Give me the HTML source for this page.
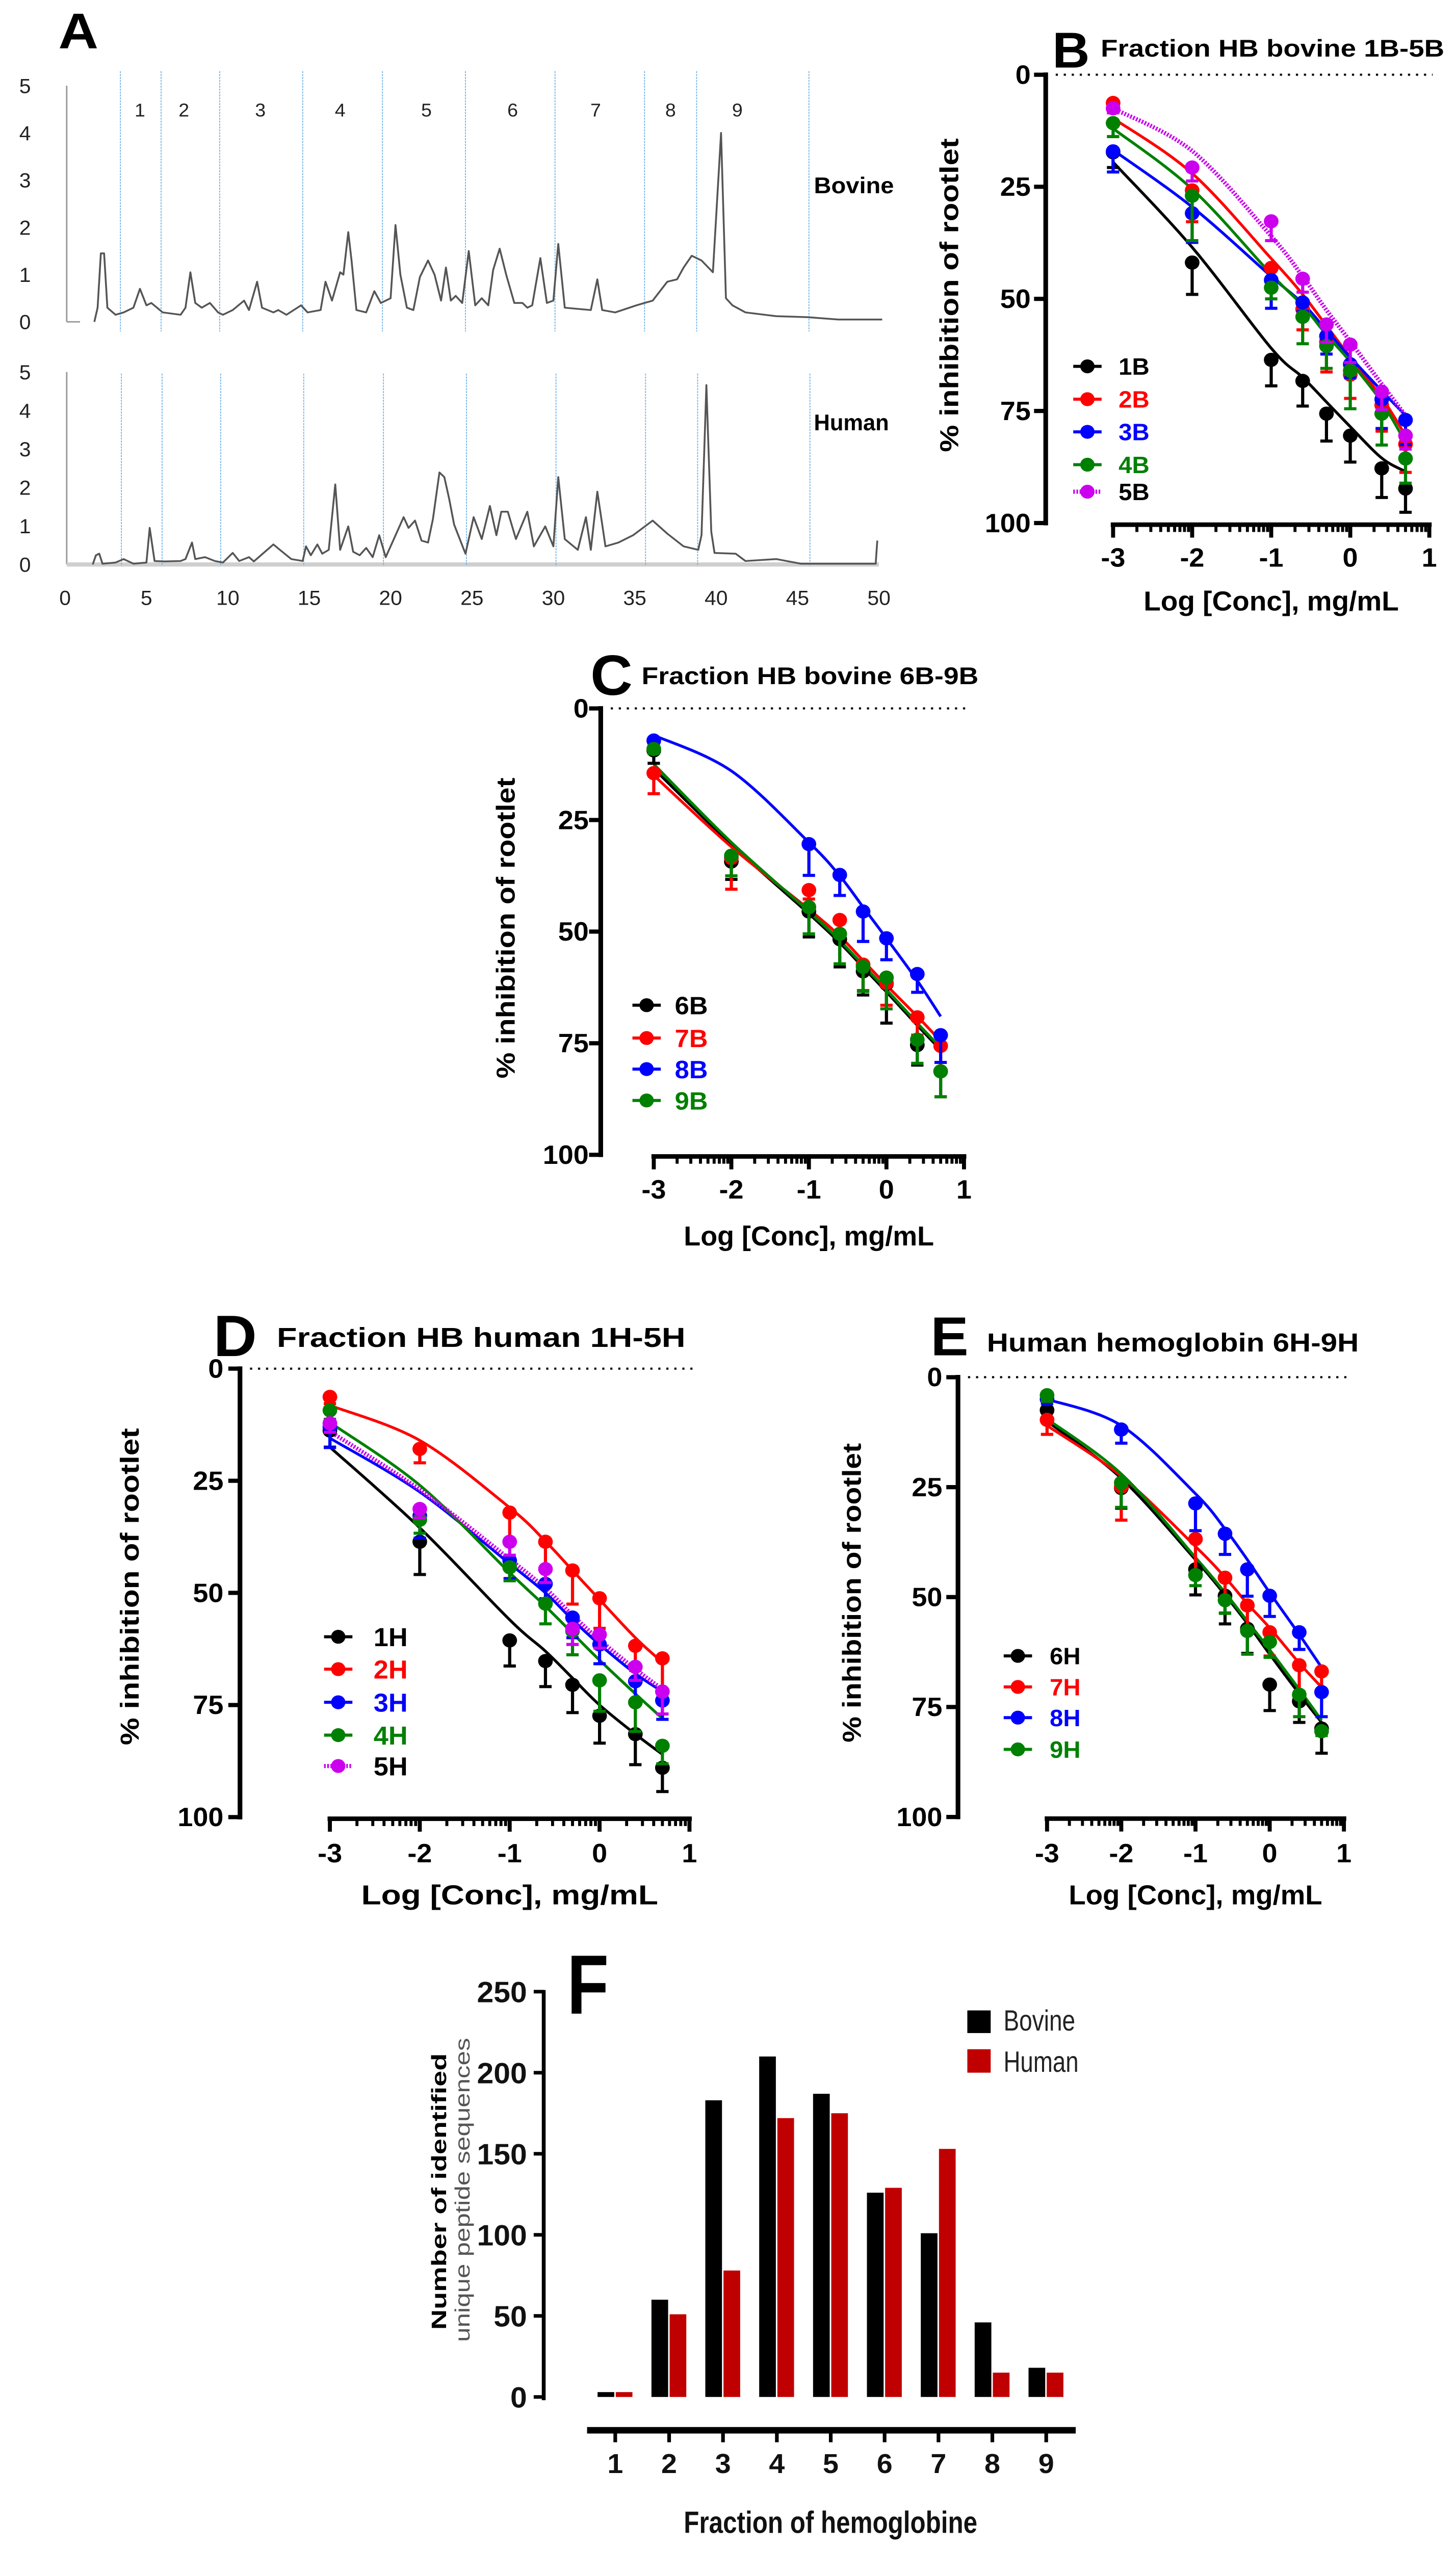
<!DOCTYPE html>
<html><head><meta charset="utf-8"><title>Hemoglobin fractions figure</title>
<style>
html,body{margin:0;padding:0;background:#fff;width:100%;height:100%;overflow:hidden;}
#fig{display:block;position:absolute;left:0;top:0;width:100vw;height:100vh;}
.nb{font-family:"Liberation Sans Narrow","Liberation Sans",sans-serif;font-weight:bold;}
.bd{font-family:"Liberation Sans",sans-serif;font-weight:bold;}
.rg{font-family:"Liberation Sans",sans-serif;}
</style></head>
<body>
<svg id="fig" xmlns="http://www.w3.org/2000/svg" viewBox="0 0 873 1576" preserveAspectRatio="none">
<rect x="0" y="0" width="873" height="1576" fill="#fff"/>
</svg>
<script>
// ===== Panel A data (chromatograms: time in min, absorbance) =====
const bovT=[1.8,2.0,2.2,2.4,2.6,3.1,3.6,4.2,4.6,5.0,5.3,6.0,7.1,7.4,7.7,8.0,8.4,8.9,9.4,9.7,10.3,11.0,11.3,11.8,12.1,12.8,13.1,13.6,14.5,14.9,15.7,16.0,16.4,16.9,17.1,17.4,17.6,17.9,18.5,19.0,19.4,19.7,20.0,20.3,20.6,21.0,21.4,21.8,22.3,22.7,23.1,23.4,23.7,24.0,24.4,24.8,25.2,25.6,26.0,26.3,26.7,27.1,27.6,28.1,28.4,28.7,29.2,29.6,30.0,30.3,30.7,32.3,32.7,33.0,33.8,35.1,36.1,37.0,37.6,38.0,38.5,39.1,39.8,40.3,40.6,41.0,41.8,43.7,45.6,47.5,50.2];
const bovV=[0.0,0.3,1.45,1.45,0.3,0.15,0.2,0.3,0.7,0.35,0.4,0.2,0.15,0.3,1.05,0.4,0.3,0.4,0.2,0.15,0.25,0.45,0.25,0.85,0.3,0.2,0.25,0.15,0.35,0.2,0.25,0.85,0.45,1.05,1.0,1.9,1.3,0.25,0.2,0.65,0.4,0.45,0.5,2.05,1.0,0.3,0.25,0.95,1.3,1.0,0.45,1.15,0.45,0.55,0.4,1.5,0.35,0.5,0.35,1.1,1.55,1.0,0.4,0.4,0.3,0.35,1.35,0.4,0.45,1.65,0.3,0.25,0.9,0.25,0.2,0.35,0.45,0.85,0.9,1.15,1.4,1.3,1.05,4.0,0.5,0.35,0.2,0.12,0.1,0.05,0.05];
const humT=[1.7,1.9,2.1,2.3,3.1,3.6,4.2,5.0,5.2,5.5,6.1,7.1,7.4,7.8,8.0,8.6,9.2,9.7,10.3,10.7,11.3,11.6,12.8,13.2,13.9,14.6,14.8,15.1,15.5,15.8,16.2,16.6,16.9,17.4,17.7,18.1,18.5,18.9,19.3,19.7,20.2,20.8,21.1,21.5,21.9,22.3,22.6,23.0,23.3,23.6,23.9,24.6,25.1,25.6,26.1,26.5,26.8,27.2,27.7,28.4,28.8,29.5,30.0,30.3,30.7,31.5,32.0,32.3,32.7,33.2,34.0,34.9,36.1,37.0,38.0,38.9,39.1,39.4,39.7,39.9,41.2,41.8,43.7,45.2,49.8,49.9];
const humV=[0,0.24,0.28,0.02,0.05,0.14,0.02,0.05,0.95,0.09,0.08,0.09,0.14,0.57,0.14,0.19,0.09,0.05,0.3,0.09,0.19,0.08,0.52,0.38,0.14,0.09,0.47,0.24,0.52,0.28,0.38,2.08,0.38,0.99,0.33,0.24,0.43,0.19,0.76,0.19,0.66,1.23,0.95,1.14,0.62,0.57,1.18,2.39,2.27,1.7,1.04,0.28,1.23,0.66,1.52,0.76,1.37,1.37,0.66,1.37,0.47,0.99,0.47,2.27,0.66,0.38,1.23,0.38,1.89,0.47,0.57,0.76,1.14,0.8,0.47,0.38,0.76,4.66,0.85,0.3,0.28,0.09,0.14,0.02,0.02,0.62];
const cutT=[3.4,5.9,9.5,14.6,19.5,24.6,30.1,35.6,38.8,45.7];
const fracLabels=["1","2","3","4","5","6","7","8","9"];
const fracLabelT=[4.6,7.3,12.0,16.9,22.2,27.5,32.6,37.2,41.3];
const timeTicks=[0,5,10,15,20,25,30,35,40,45,50];
const absTicks=[0,1,2,3,4,5];

// ===== Dose-response data =====
const xsConc=[-3,-2,-1,-0.602,-0.301,0,0.398,0.699];
const concTicks=[-3,-2,-1,0,1];
const pctTicks=[0,25,50,75,100];
// Panel B
const b1B=[17.3,41.9,63.6,68.3,75.6,80.5,87.8,92.3], b1Be=[3.4,7.1,5.8,5.6,6.1,5.9,6.5,5.3], b1Bf=[19.5,38.5,61,67.5,73,78.5,85.5,88.5];
const b2B=[6.3,25.8,43.1,52.3,59.6,66.9,73.7,82.4], b2Be=[1.9,7.0,4.1,4.6,6.7,5.3,5.8,6.3], b2Bf=[9.7,22,41,49,56,63,72,80.5];
const b3B=[17.1,30.9,45.8,50.8,58.3,64.6,72.4,77.0], b3Be=[4.6,6.5,6.3,2,4,3,6.5,5.5], b3Bf=[16.8,29.5,45,51,57,63,70.5,76];
const b4B=[10.8,27,47.5,54,60.5,66,75.6,85.6], b4Be=[3,10,2.5,6,5,8.5,7,5.5], b4Bf=[12,25.5,44.5,51.5,58,64,73,82];
const b5B=[7.5,20.7,32.7,45.5,55.7,60.2,70.7,80.5], b5Be=[1,3,4.3,3,4,4,4,3], b5Bf=[7.5,17,36,45,52.5,59.5,69,76];
// Panel C
const c6B=[9.4,34.3,45.5,51.7,58.9,61.7,75.4,81.3], c6Be=[2.9,4,5.7,6.2,5.3,8.8,4.5,5.7], c6Bf=[13.5,30.5,46,52.5,58,63.5,71,76.5];
const c7B=[14.5,33.5,40.7,47.4,57.4,61.5,69.2,75.6], c7Be=[4.6,7.0,2,3.7,5.8,5,4,6.2], c7Bf=[15,31,45,51,56.5,62,69,74.5];
const c8B=[7.2,null,30.4,37.3,45.5,51.5,59.5,73.2], c8Be=[1,0,7,4.6,6.7,4.8,4.1,6.1], c8Bf=[6,14,30,37.5,44.5,51.5,61,69];
const c9B=[9.1,33,44.5,50.5,57.9,60.3,74.2,81.3], c9Be=[1,4.5,6,6.7,5.5,7,5.3,5.7], c9Bf=[12.5,30,45.5,52,57.5,63,70.5,76];
// Panel D
const d1H=[13.8,38.6,60.6,65.2,70.5,77.4,81.5,89.0], d1He=[3.7,7.3,5.7,5.7,6.2,6.1,6.8,5.3], d1Hf=[17.5,35.5,56,63,69,75,81.5,86];
const d2H=[6.3,17.9,32.1,38.6,45,51.2,61.8,64.6], d2He=[1.5,3.1,6.7,6.5,7.5,6.7,5.5,7.2], d2Hf=[8.2,16,31,38.5,45,51.5,60,65.5];
const d3H=[13,32.8,42.8,48,55.5,61.5,69.7,74], d3He=[4.6,5,4,3.3,4.5,4.3,4.3,4.2], d3Hf=[15.5,27.5,43.5,50,56,61.5,68,72];
const d4H=[9.3,33.7,44.3,52.4,58.5,69.5,74.4,84.1], d4He=[2,3,3,4.5,5.3,6.9,6.5,4], d4Hf=[12,26,45.5,53,59,65,72.5,78];
const d5H=[12.2,31.3,38.6,44.7,58,59.3,66.5,72], d5He=[2,2,3,3,3.5,3,3,5], d5Hf=[14,27,42.5,49,55,60.5,67,71.5];
// Panel E
const e6H=[7.5,25.2,43.7,49.7,57.2,69.9,73.7,79.9], e6He=[1.7,4.6,5.8,6.4,5.6,5.9,4.8,5.6], e6Hf=[10,23,41.5,49.5,56,63,72,78.5];
const e7H=[9.7,24.9,36.8,45.6,51.9,58,65.5,66.9], e7He=[3.3,7.6,8.1,8.0,5.6,5.4,6,5.1], e7Hf=[11,22.5,38.5,45.5,51.5,57,65,70.5];
const e8H=[5,11.9,28.7,35.6,43.7,49.7,58,71.6], e8He=[1,3.1,6.2,4.7,6.1,4.7,3.9,5.6], e8Hf=[5,11,26.5,34.5,41.5,49,58.5,66];
const e9H=[4.1,24,45,50.7,57.7,60.2,72.2,80.5], e9He=[1.4,5.6,2.4,3,5.3,3.5,5,1], e9Hf=[9.5,22,41,49,55.5,62,71,78];

// ===== Panel F data =====
const fracF=[1,2,3,4,5,6,7,8,9];
const bovF=[3,60,183,210,187,126,101,46,18];
const humF=[3,51,78,172,175,129,153,15,15];
const countTicks=[0,50,100,150,200,250];

const NS="http://www.w3.org/2000/svg";
const svg=document.getElementById('fig');
function mk(tag,attrs,parent){const e=document.createElementNS(NS,tag);for(const k in attrs)e.setAttribute(k,attrs[k]);(parent||svg).appendChild(e);return e;}
function txt(s,attrs,parent){const e=mk('text',attrs,parent);e.textContent=s;return e;}

// ================= PANEL A =================
(function(){
  const gA=mk('g',{});
  
  
  const xA=t=>39+t*9.76;
  const yTop=v=>199-v*29.2;
  const yHum=v=>349-v*23.8;
  let t=txt('A',{x:35,y:30,'font-size':31,class:'bd','textLength':24,'lengthAdjust':'spacingAndGlyphs'},gA);
  
  
  let l=mk('line',{x1:40,y1:53,x2:40,y2:199,stroke:'#9a9a9a','stroke-width':0.9},gA);
  
  
  l=mk('line',{x1:40,y1:199,x2:48,y2:199,stroke:'#9a9a9a','stroke-width':0.9},gA);
  
  
  l=mk('line',{x1:40,y1:230,x2:40,y2:349,stroke:'#9a9a9a','stroke-width':0.9},gA);
  
  
  l=mk('line',{x1:40,y1:349,x2:527,y2:349,stroke:'#cfcfcf','stroke-width':2.6},gA);
  
  
  absTicks.forEach(v=>{
    let a=txt(String(v),{x:15,y:yTop(v)+4.5,'font-size':12.5,class:'rg','text-anchor':'middle',fill:'#222'},gA);
    
    
    let b=txt(String(v),{x:15,y:yHum(v)+4.5,'font-size':12.5,class:'rg','text-anchor':'middle',fill:'#222'},gA);
    
    
  });
  timeTicks.forEach(v=>{
    let a=txt(String(v),{x:xA(v),y:374,'font-size':12.5,class:'rg','text-anchor':'middle',fill:'#222'},gA);
    
    
  });
  cutT.forEach(c=>{
    let a=mk('line',{x1:xA(c),y1:44,x2:xA(c),y2:205,stroke:'#6fb3e6','stroke-width':0.55,'stroke-dasharray':'1.2 0.6'},gA);
    
    
    let b=mk('line',{x1:xA(c)+0.6,y1:231,x2:xA(c)+0.6,y2:350,stroke:'#6fb3e6','stroke-width':0.55,'stroke-dasharray':'1.2 0.6'},gA);
    
    
  });
  fracLabels.forEach((s,i)=>{
    let a=txt(s,{x:xA(fracLabelT[i]),y:72,'font-size':11.5,class:'rg','text-anchor':'middle',fill:'#222'},gA);
    
    
  });
  let d='';bovT.forEach((tt,i)=>{d+=(i?'L':'M')+xA(tt).toFixed(2)+' '+yTop(bovV[i]).toFixed(2);});
  let p=mk('path',{d:d,fill:'none',stroke:'#555','stroke-width':1.1,'stroke-linejoin':'round'},gA);
  
  
  d='';humT.forEach((tt,i)=>{d+=(i?'L':'M')+xA(tt).toFixed(2)+' '+yHum(humV[i]).toFixed(2);});
  p=mk('path',{d:d,fill:'none',stroke:'#555','stroke-width':1.1,'stroke-linejoin':'round'},gA);
  
  
  t=txt('Bovine',{x:488,y:119.5,'font-size':14,class:'nb','textLength':48,'lengthAdjust':'spacingAndGlyphs'},gA);
  
  
  t=txt('Human',{x:488,y:266,'font-size':14,class:'nb','textLength':45,'lengthAdjust':'spacingAndGlyphs'},gA);
  
  
})();

// ================= DOSE-RESPONSE PANELS =================
const COL={k:'#000000',r:'#ff0000',b:'#0000ff',g:'#008000',m:'#cc00ee'};
function catmull(pts){
  let d='M'+pts[0][0].toFixed(2)+' '+pts[0][1].toFixed(2);
  for(let i=0;i<pts.length-1;i++){
    const p0=pts[i-1]||pts[i],p1=pts[i],p2=pts[i+1],p3=pts[i+2]||p2;
    const c1=[p1[0]+(p2[0]-p0[0])/6,p1[1]+(p2[1]-p0[1])/6];
    const c2=[p2[0]-(p3[0]-p1[0])/6,p2[1]-(p3[1]-p1[1])/6];
    d+='C'+c1[0].toFixed(2)+' '+c1[1].toFixed(2)+' '+c2[0].toFixed(2)+' '+c2[1].toFixed(2)+' '+p2[0].toFixed(2)+' '+p2[1].toFixed(2);
  }
  return d;
}
function dosePanel(cfg){
  const g=mk('g',{});
  
  
  const X=v=>cfg.xm3+(v+3)*cfg.ux;
  const Y=v=>cfg.y0+(cfg.y100-cfg.y0)*v/100;
  let t=txt(cfg.letter,{x:cfg.lx,y:cfg.ly,'font-size':cfg.ls,class:'bd'},g);
  
  
  t=txt(cfg.title,{x:cfg.tx,y:cfg.ty,'font-size':cfg.ts,class:'bd','textLength':cfg.tl,'lengthAdjust':'spacingAndGlyphs'},g);
  
  
  t=txt('% inhibition of rootlet',{x:0,y:0,'font-size':15.5,class:'bd','text-anchor':'middle','textLength':cfg.yl,'lengthAdjust':'spacingAndGlyphs',transform:'translate('+(cfg.ylx+5.5)+','+cfg.yly+') rotate(-90)'},g);
  
  
  let l=mk('line',{x1:cfg.ax+6,y1:cfg.y0,x2:X(1)+2,y2:cfg.y0,stroke:'#000','stroke-width':1.3,'stroke-dasharray':'1.3 3.5'},g);
  
  
  l=mk('line',{x1:cfg.ax,y1:cfg.y0-1.4,x2:cfg.ax,y2:cfg.y100+1.4,stroke:'#000','stroke-width':2.8},g);
  
  
  pctTicks.forEach(v=>{
    let a=mk('line',{x1:cfg.ax-7,y1:Y(v),x2:cfg.ax,y2:Y(v),stroke:'#000','stroke-width':2.6},g);
    
    
    let b=txt(String(v),{x:cfg.tr,y:Y(v)+5.6,'font-size':16.5,class:'nb','text-anchor':'end'},g);
    
    
  });
  const xy=cfg.y100+1;
  l=mk('line',{x1:X(-3)-1.4,y1:xy,x2:X(1)+1.4,y2:xy,stroke:'#000','stroke-width':2.8},g);
  
  
  concTicks.forEach(v=>{
    let a=mk('line',{x1:X(v),y1:xy,x2:X(v),y2:xy+8,stroke:'#000','stroke-width':2.4},g);
    
    
    let b=txt(String(v),{x:X(v),y:xy+cfg.tly,'font-size':16.5,class:'nb','text-anchor':'middle'},g);
    
    
  });
  [-3,-2,-1,0].forEach(dec=>{[2,3,4,5,6,7,8,9].forEach(k=>{
    const v=dec+Math.log10(k);
    let a=mk('line',{x1:X(v),y1:xy,x2:X(v),y2:xy+4.5,stroke:'#000','stroke-width':1.8},g);
    
    
  });});
  t=txt('Log [Conc], mg/mL',{x:(X(-3)+X(1))/2,y:xy+cfg.xly,'font-size':17,class:'nb','text-anchor':'middle','textLength':cfg.xll,'lengthAdjust':'spacingAndGlyphs'},g);
  
  
  cfg.series.forEach(s=>{
    const pts=xsConc.map((x,i)=>[X(x),Y(s.fit[i])]);
    const attrs={d:catmull(pts),fill:'none',stroke:COL[s.c],'stroke-width':s.c==='m'?2.6:1.7};
    if(s.c==='m')attrs['stroke-dasharray']='1 0.9';
    let p=mk('path',attrs,g);
    
    
  });
  cfg.series.forEach(s=>{
    s.vals.forEach((v,i)=>{
      if(v===null)return;
      const x=X(xsConc[i]),y=Y(v),ye=Y(v+s.err[i]);
      let a=mk('line',{x1:x,y1:y,x2:x,y2:ye,stroke:COL[s.c],'stroke-width':1.9},g);
      
      
      let b=mk('line',{x1:x-3.7,y1:ye,x2:x+3.7,y2:ye,stroke:COL[s.c],'stroke-width':1.9},g);
      
      
      let c=mk('circle',{cx:x,cy:y,r:4.4,fill:COL[s.c]},g);
      
      
    });
  });
  cfg.series.forEach((s,i)=>{
    const ly=cfg.legY[i];
    let a=mk('line',{x1:cfg.legX-8.5,y1:ly,x2:cfg.legX+8.5,y2:ly,stroke:COL[s.c],'stroke-width':s.c==='m'?2.6:1.9},g);
    if(s.c==='m')a.setAttribute('stroke-dasharray','1 0.9');
    
    
    let c=mk('circle',{cx:cfg.legX,cy:ly,r:4.3,fill:COL[s.c]},g);
    
    
    let b=txt(s.label,{x:cfg.legTx,y:ly+cfg.lfs*0.36,'font-size':cfg.lfs,class:'bd',fill:s.c==='m'?'#000':COL[s.c]},g);
    
    
  });
}

dosePanel({name:'panel-b-bovine-1b-5b',letter:'B',lx:631,ly:41.7,ls:31,title:'Fraction HB bovine 1B-5B',tx:660,ty:35,ts:15,tl:206,
  ylx:569,yly:182.5,yl:194,ax:627,y0:46.2,y100:323.4,xm3:667.4,ux:47.4,tr:618,tly:26,xly:53,xll:153,
  legX:652,legY:[226.5,246.8,267,287.3,304],legTx:670.7,lfs:14.5,
  series:[{label:'1B',c:'k',vals:b1B,err:b1Be,fit:b1Bf},{label:'2B',c:'r',vals:b2B,err:b2Be,fit:b2Bf},{label:'3B',c:'b',vals:b3B,err:b3Be,fit:b3Bf},{label:'4B',c:'g',vals:b4B,err:b4Be,fit:b4Bf},{label:'5B',c:'m',vals:b5B,err:b5Be,fit:b5Bf}]});
dosePanel({name:'panel-c-bovine-6b-9b',letter:'C',lx:354,ly:429.7,ls:35,title:'Fraction HB bovine 6B-9B',tx:384.7,ty:423,ts:15,tl:202,
  ylx:303,yly:573.8,yl:186,ax:360.2,y0:438,y100:714,xm3:392,ux:46.5,tr:353,tly:26,xly:55,xll:150,
  legX:387.7,legY:[621.5,641.8,661,680.4],legTx:404.6,lfs:15.5,
  series:[{label:'6B',c:'k',vals:c6B,err:c6Be,fit:c6Bf},{label:'7B',c:'r',vals:c7B,err:c7Be,fit:c7Bf},{label:'8B',c:'b',vals:c8B,err:c8Be,fit:c8Bf},{label:'9B',c:'g',vals:c9B,err:c9Be,fit:c9Bf}]});
dosePanel({name:'panel-d-human-1h-5h',letter:'D',lx:128,ly:838.4,ls:36,title:'Fraction HB human 1H-5H',tx:166,ty:832.7,ts:17,tl:245,
  ylx:77.7,yly:981,yl:196,ax:143.9,y0:846.2,y100:1123.5,xm3:197.8,ux:53.9,tr:134,tly:27,xly:53,xll:178,
  legX:202.8,legY:[1012,1032,1052.5,1072.8,1091.9],legTx:224,lfs:16,
  series:[{label:'1H',c:'k',vals:d1H,err:d1He,fit:d1Hf},{label:'2H',c:'r',vals:d2H,err:d2He,fit:d2Hf},{label:'3H',c:'b',vals:d3H,err:d3He,fit:d3Hf},{label:'4H',c:'g',vals:d4H,err:d4He,fit:d4Hf},{label:'5H',c:'m',vals:d5H,err:d5He,fit:d5Hf}]});
dosePanel({name:'panel-e-human-6h-9h',letter:'E',lx:558,ly:838,ls:34,title:'Human hemoglobin 6H-9H',tx:591.7,ty:835.6,ts:16,tl:223,
  ylx:510.7,yly:984.8,yl:185,ax:574.4,y0:851.5,y100:1123.4,xm3:627.8,ux:44.5,tr:565,tly:27,xly:53,xll:152,
  legX:610.3,legY:[1023.8,1043,1062,1081.6],legTx:629.4,lfs:14.5,
  series:[{label:'6H',c:'k',vals:e6H,err:e6He,fit:e6Hf},{label:'7H',c:'r',vals:e7H,err:e7He,fit:e7Hf},{label:'8H',c:'b',vals:e8H,err:e8He,fit:e8Hf},{label:'9H',c:'g',vals:e9H,err:e9He,fit:e9Hf}]});

// ================= PANEL F =================
(function(){
  const g=mk('g',{});
  
  
  const yF=v=>1482-v*1.0024;
  const xF=f=>368.9+(f-1)*32.3;
  let t=txt('F',{x:340,y:1245,'font-size':52,class:'bd','textLength':25,'lengthAdjust':'spacingAndGlyphs'},g);
  
  
  let l=mk('line',{x1:326,y1:yF(250)-1,x2:326,y2:yF(0)+2,stroke:'#000','stroke-width':2.3},g);
  
  
  countTicks.forEach(v=>{
    let a=mk('line',{x1:320,y1:yF(v),x2:326,y2:yF(v),stroke:'#000','stroke-width':2.2},g);
    
    
    let b=txt(String(v),{x:316,y:yF(v)+6.5,'font-size':18,class:'nb','text-anchor':'end',fill:'#111'},g);
    
    
  });
  t=txt('Number of identified',{x:0,y:0,'font-size':12.5,class:'bd','text-anchor':'middle','textLength':171,'lengthAdjust':'spacingAndGlyphs',transform:'translate(267.5,1355) rotate(-90)'},g);
  
  
  t=txt('unique peptide sequences',{x:0,y:0,'font-size':12.5,class:'rg','text-anchor':'middle',fill:'#555','textLength':188,'lengthAdjust':'spacingAndGlyphs',transform:'translate(281.5,1354) rotate(-90)'},g);
  
  
  fracF.forEach((f,i)=>{
    const c=xF(f);
    let a=mk('rect',{x:c-10.6,y:yF(bovF[i]),width:10,height:yF(0)-yF(bovF[i]),fill:'#000'},g);
    
    
    let b=mk('rect',{x:c+0.3,y:yF(humF[i]),width:10,height:yF(0)-yF(humF[i]),fill:'#c00000'},g);
    
    
    let tk=mk('line',{x1:c,y1:1502,x2:c,y2:1510,stroke:'#000','stroke-width':2.2},g);
    
    
    let lb=txt(String(f),{x:c,y:1529,'font-size':17,class:'nb','text-anchor':'middle',fill:'#111'},g);
    
    
  });
  l=mk('line',{x1:352,y1:1502.6,x2:645,y2:1502.6,stroke:'#000','stroke-width':4},g);
  
  
  t=txt('Fraction of hemoglobine',{x:498,y:1566,'font-size':19,class:'nb','text-anchor':'middle',fill:'#111','textLength':176,'lengthAdjust':'spacingAndGlyphs'},g);
  
  
  let r=mk('rect',{x:580,y:1243,width:14,height:14,fill:'#000'},g);
  
  
  r=mk('rect',{x:580,y:1267,width:14,height:14.5,fill:'#c00000'},g);
  
  
  t=txt('Bovine',{x:601.7,y:1255.4,'font-size':18,class:'rg',fill:'#222','textLength':43,'lengthAdjust':'spacingAndGlyphs'},g);
  
  
  t=txt('Human',{x:601.7,y:1281,'font-size':18,class:'rg',fill:'#222','textLength':45,'lengthAdjust':'spacingAndGlyphs'},g);
  
  
})();
</script>
</body></html>
